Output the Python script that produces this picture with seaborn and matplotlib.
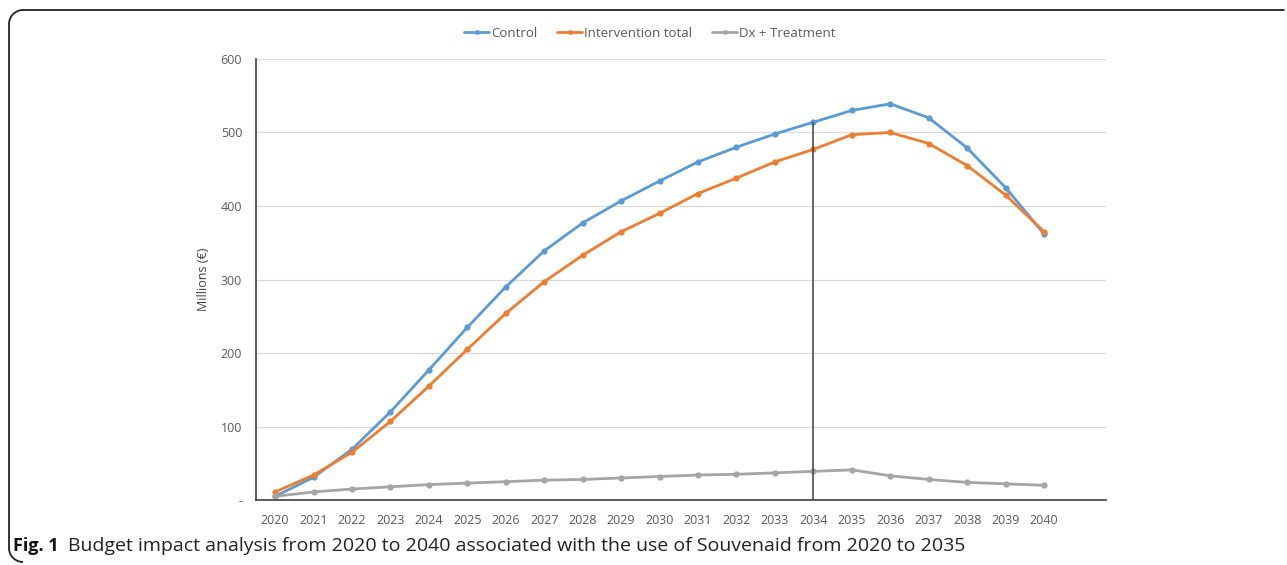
import numpy as np
import pandas as pd
import seaborn as sns
import matplotlib.pyplot as plt
from matplotlib.lines import Line2D
from matplotlib.patches import Arc

years = list(range(2020, 2041))
control = [5, 31, 69, 120, 177, 235, 290, 339, 377, 407, 434, 460, 480, 498, 514, 530, 539, 520, 479, 425, 362]
intervention = [11, 34, 65, 107, 155, 205, 254, 297, 333, 365, 390, 417, 438, 460, 477, 497, 500, 485, 455, 415, 365]
dx_treatment = [5, 11, 15, 18, 21, 23, 25, 27, 28, 30, 32, 34, 35, 37, 39, 41, 33, 28, 24, 22, 20]
series_names = ["Control", "Intervention total", "Dx + Treatment"]
colors = ["#5b9bd5", "#ed7d31", "#a5a5a5"]
yticks = [0, 100, 200, 300, 400, 500, 600]
ytick_labels = ["-", "100", "200", "300", "400", "500", "600"]
marker_year = 2034

df = pd.DataFrame({"Year": years, series_names[0]: control,
                   series_names[1]: intervention, series_names[2]: dx_treatment})
long = df.melt(id_vars="Year", var_name="Series", value_name="Value")

sns.set_theme(style="white")
plt.rcParams['font.family'] = ['Open Sans', 'DejaVu Sans']

fig = plt.figure(figsize=(12.87, 5.65), dpi=100)
ax = fig.add_axes([0.199, 0.115, 0.66, 0.7806])

sns.lineplot(data=long, x="Year", y="Value", hue="Series", palette=colors,
             hue_order=series_names, marker="o", markersize=4.5, markeredgewidth=0,
             linewidth=2, ax=ax, legend=False)

# vertical line at 2034 up to control value
ax.vlines(marker_year, 0, control[years.index(marker_year)], color="#404040", lw=1.1, zorder=5)

ax.set_xlim(2019.505, 2041.6)
ax.set_ylim(0, 600)
ax.set_xticks(years)
ax.set_xticklabels([str(y) for y in years], fontsize=9, color="#595959")
ax.set_yticks(yticks)
ax.set_yticklabels(ytick_labels, fontsize=9, color="#595959")
ax.tick_params(axis="both", length=0, pad=10)
ax.yaxis.grid(True, color="#d9d9d9", lw=0.9)
ax.set_axisbelow(True)
for s in ["top", "right"]:
    ax.spines[s].set_visible(False)
for s in ["left", "bottom"]:
    ax.spines[s].set_color("#404040")
    ax.spines[s].set_linewidth(1.2)
ax.set_xlabel("")
ax.set_ylabel("Millions (€)", fontsize=9, color="#404040", labelpad=8)

handles = [Line2D([0], [0], color=c, lw=2, marker="o", markersize=3.5, markeredgewidth=0)
           for c in colors]
fig.legend(handles, series_names, loc="center", bbox_to_anchor=(0.505, 0.9415), ncol=3,
           frameon=False, fontsize=9.5, handlelength=1.9, handletextpad=0.15,
           columnspacing=1.5, labelcolor="#595959")

# figure border (top and left with rounded corners)
W, H = 1287, 565
r = 14
x0, y0 = 9, 10
yb = 548
fig.add_artist(Line2D([(x0 + r) / W, 1284 / W], [1 - y0 / H, 1 - y0 / H],
                      transform=fig.transFigure, color="#222222", lw=1.3))
fig.add_artist(Line2D([x0 / W, x0 / W], [1 - (y0 + r) / H, 1 - yb / H],
                      transform=fig.transFigure, color="#222222", lw=1.3))
fig.add_artist(Arc(((x0 + r) / W, 1 - (y0 + r) / H), 2 * r / W, 2 * r / H, theta1=90, theta2=180,
                   transform=fig.transFigure, color="#222222", lw=1.3))
fig.add_artist(Arc(((x0 + r) / W, 1 - yb / H), 2 * r / W, 2 * r / H, theta1=180, theta2=270,
                   transform=fig.transFigure, color="#222222", lw=1.3))

fig.text(13 / W, 1 - 546 / H, "Fig. 1", fontsize=13, fontweight="bold", color="#111111",
         va="center", ha="left")
fig.text(68 / W, 1 - 546 / H,
         "Budget impact analysis from 2020 to 2040 associated with the use of Souvenaid from 2020 to 2035",
         fontsize=14, color="#222222", va="center", ha="left")

fig.savefig("out.png", dpi=100)
